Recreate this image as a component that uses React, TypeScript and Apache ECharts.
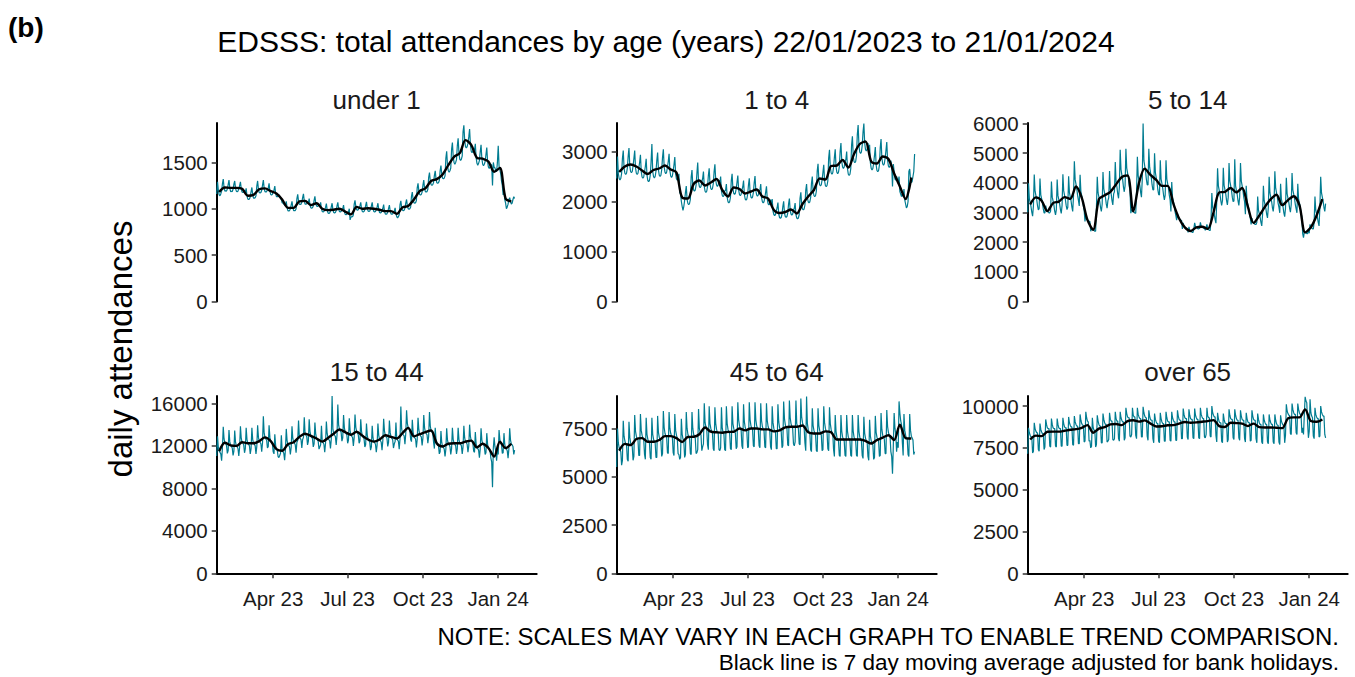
import React, { useEffect, useRef } from "react";
import * as echarts from "echarts";

// ---- labels ----
const chartTitle = "EDSSS: total attendances by age (years) 22/01/2023 to 21/01/2024";
const panelLabel = "(b)";
const yAxisTitle = "daily attendances";
const noteLines = [
  "NOTE: SCALES MAY VARY IN EACH GRAPH TO ENABLE TREND COMPARISON.",
  "Black line is 7 day moving average adjusted for bank holidays.",
];
const panelTitles = ["under 1", "1 to 4", "5 to 14", "15 to 44", "45 to 64", "over 65"];

// x axis: day index since 22/01/2023
const xTickDays = [69, 160, 252, 344];
const xTickLabels = ["Apr 23", "Jul 23", "Oct 23", "Jan 24"];
const xMaxDay = 391;

// y axes
const yMax = [1925, 3570, 6020, 16700, 9180, 10600];
const yTicks = [
  [0, 500, 1000, 1500],
  [0, 1000, 2000, 3000],
  [0, 1000, 2000, 3000, 4000, 5000, 6000],
  [0, 4000, 8000, 12000, 16000],
  [0, 2500, 5000, 7500],
  [0, 2500, 5000, 7500, 10000],
];

// ---- daily attendances (one row per week, Sun..Sat) ----
const dailyUnder1 = [
  1160, 1290, 1200, 1150, 1140, 1160, 1190,
  1270, 1320, 1230, 1190, 1195, 1190, 1215,
  1260, 1310, 1225, 1185, 1190, 1185, 1210,
  1265, 1300, 1220, 1190, 1185, 1190, 1215,
  1250, 1290, 1215, 1180, 1175, 1180, 1200,
  1175, 1220, 1140, 1105, 1100, 1105, 1130,
  1185, 1230, 1150, 1115, 1115, 1120, 1140,
  1245, 1300, 1210, 1175, 1170, 1175, 1200,
  1255, 1310, 1220, 1185, 1180, 1185, 1210,
  1225, 1275, 1190, 1155, 1150, 1155, 1180,
  1200, 1245, 1165, 1130, 1130, 1130, 1150,
  1135, 1110, 1100, 1065, 1060, 1050, 1040,
  1040, 1080, 1010, 980, 975, 980, 1000,
  1040, 1080, 1015, 980, 980, 980, 1000,
  1110, 1155, 1080, 1050, 1045, 1050, 1070,
  1120, 1160, 1085, 1050, 1050, 1055, 1075,
  1070, 1110, 1040, 1010, 1005, 1010, 1030,
  1090, 1135, 1060, 1030, 1025, 1030, 1050,
  1030, 1070, 1000, 970, 965, 970, 990,
  1015, 1055, 985, 955, 950, 955, 975,
  1020, 1060, 990, 960, 955, 960, 980,
  1030, 1070, 1000, 970, 965, 970, 990,
  1000, 1040, 970, 940, 935, 940, 960,
  970, 1000, 880, 910, 915, 915, 935,
  1050, 1090, 1020, 990, 985, 990, 1010,
  1030, 1070, 1000, 970, 965, 970, 990,
  1035, 1075, 1005, 975, 970, 975, 995,
  1030, 1070, 1000, 970, 965, 970, 990,
  1020, 1060, 990, 960, 955, 960, 980,
  1005, 1045, 975, 945, 940, 945, 965,
  1005, 1040, 975, 945, 940, 945, 965,
  975, 1010, 945, 915, 900, 915, 935,
  1045, 1085, 1015, 985, 980, 985, 1005,
  1060, 1100, 1030, 1000, 995, 1000, 1020,
  1135, 1180, 1100, 1065, 1060, 1065, 1090,
  1225, 1275, 1190, 1155, 1150, 1155, 1180,
  1255, 1310, 1220, 1185, 1180, 1185, 1210,
  1340, 1390, 1300, 1260, 1255, 1260, 1285,
  1360, 1410, 1320, 1280, 1275, 1280, 1305,
  1410, 1465, 1370, 1330, 1325, 1330, 1355,
  1545, 1620, 1470, 1410, 1395, 1410, 1440,
  1640, 1715, 1560, 1500, 1480, 1500, 1530,
  1680, 1760, 1600, 1535, 1520, 1535, 1570,
  1830, 1900, 1740, 1670, 1655, 1670, 1705,
  1775, 1860, 1690, 1620, 1605, 1620, 1655,
  1630, 1700, 1550, 1490, 1470, 1490, 1520,
  1615, 1690, 1540, 1480, 1465, 1480, 1510,
  1585, 1660, 1510, 1450, 1435, 1450, 1480,
  1470, 1250, 1500, 1450, 1440, 1410, 1400,
  1500, 1680, 1460, 1420, 1380, 1300, 1250,
  1150, 1180, 1100, 1060, 1000, 1020, 1050,
  1100, 1120, 1080, 1050, 1060, 1100, 1130,
  1110,
];

const daily1to4 = [
  2460, 2900, 2560, 2460, 2430, 2460, 2560,
  2860, 3020, 2670, 2565, 2540, 2565, 2670,
  2905, 3070, 2710, 2600, 2575, 2600, 2710,
  2860, 3020, 2670, 2565, 2540, 2565, 2670,
  2780, 2935, 2595, 2490, 2465, 2490, 2595,
  2700, 2855, 2525, 2420, 2400, 2420, 2525,
  2790, 3150, 2600, 2500, 2470, 2500, 2605,
  2820, 2980, 2635, 2525, 2500, 2525, 2635,
  2885, 3045, 2695, 2585, 2555, 2585, 2690,
  2800, 2955, 2615, 2510, 2480, 2510, 2615,
  2735, 2890, 2555, 2450, 2425, 2450, 2555,
  2180, 2150, 2000, 1900, 1820, 1900, 2020,
  2180, 2310, 2040, 1960, 1935, 1960, 2040,
  2490, 2630, 2325, 2230, 2210, 2230, 2325,
  2565, 2780, 2395, 2300, 2275, 2300, 2395,
  2460, 2600, 2300, 2205, 2180, 2205, 2300,
  2520, 2665, 2355, 2260, 2235, 2260, 2355,
  2595, 2745, 2425, 2330, 2300, 2330, 2425,
  2365, 2500, 2210, 2120, 2095, 2120, 2210,
  2225, 2350, 2080, 1995, 1975, 1995, 2080,
  2415, 2555, 2255, 2165, 2145, 2165, 2255,
  2385, 2520, 2230, 2140, 2115, 2140, 2230,
  2290, 2420, 2140, 2050, 2030, 2050, 2140,
  2330, 2465, 2180, 2090, 2070, 2090, 2180,
  2375, 2510, 2220, 2130, 2105, 2130, 2220,
  2225, 2350, 2080, 1995, 1975, 1995, 2080,
  2185, 2305, 2040, 1955, 1935, 1955, 2040,
  1940, 2050, 1810, 1740, 1720, 1740, 1810,
  1875, 1980, 1750, 1680, 1665, 1680, 1750,
  1900, 2005, 1770, 1700, 1685, 1700, 1770,
  1950, 2060, 1820, 1750, 1730, 1750, 1820,
  1865, 1970, 1740, 1670, 1655, 1670, 1740,
  2065, 2185, 1930, 1850, 1835, 1850, 1930,
  2225, 2350, 2080, 1995, 1975, 1995, 2080,
  2365, 2500, 2210, 2120, 2095, 2120, 2210,
  2610, 2755, 2435, 2335, 2310, 2335, 2435,
  2585, 2735, 2415, 2320, 2295, 2320, 2415,
  2870, 3035, 2685, 2575, 2545, 2575, 2685,
  2885, 3045, 2695, 2585, 2555, 2585, 2695,
  3000, 3170, 2800, 2690, 2660, 2690, 2800,
  2840, 3000, 2655, 2545, 2520, 2545, 2655,
  3125, 3305, 2920, 2800, 2775, 2800, 2920,
  3340, 3530, 3120, 2990, 2960, 2990, 3120,
  3390, 3560, 3170, 3040, 3010, 3040, 3170,
  2970, 3135, 2770, 2660, 2630, 2660, 2770,
  2925, 3090, 2730, 2620, 2595, 2620, 2730,
  3075, 3250, 2870, 2755, 2725, 2755, 2870,
  3020, 3190, 2820, 2710, 2680, 2710, 2820,
  2710, 2300, 2750, 2600, 2450, 2430, 2500,
  2440, 2400, 2500, 2200, 2150, 2100, 2150,
  2100, 2250, 2030, 1950, 1870, 1900, 2000,
  2600, 2650, 2450, 2380, 2400, 2500, 2600,
  2950,
];

const daily5to14 = [
  3010, 3990, 3470, 3335, 3205, 3010, 2880,
  3230, 4280, 3720, 3580, 3440, 3230, 3090,
  3130, 4150, 3600, 3470, 3330, 3130, 2990,
  2990, 3230, 3080, 3050, 3020, 2990, 2990,
  3050, 4050, 3520, 3390, 3250, 3050, 2920,
  3100, 4110, 3570, 3440, 3300, 3100, 2970,
  3240, 4290, 3730, 3590, 3450, 3240, 3100,
  3180, 4220, 3670, 3530, 3390, 3180, 3040,
  3570, 4730, 4110, 3960, 3800, 3570, 3410,
  3220, 4270, 3710, 3570, 3430, 3220, 3080,
  2700, 2920, 2780, 2750, 2720, 2700, 2700,
  2370, 2450, 2440, 2420, 2400, 2370, 2370,
  3170, 4210, 3660, 3520, 3380, 3170, 3040,
  3290, 4370, 3800, 3650, 3510, 3290, 3150,
  3400, 3500, 4400, 3770, 3630, 3400, 3260,
  3630, 3700, 4700, 4030, 3870, 3630, 3480,
  3860, 5120, 4450, 4280, 4120, 3860, 3700,
  3910, 5150, 4500, 4340, 4170, 3910, 3740,
  2980, 3100, 3070, 3040, 3010, 2980, 2980,
  3680, 4880, 4240, 4080, 3920, 3680, 3520,
  4120, 6000, 4750, 4570, 4390, 4120, 3940,
  3930, 5150, 4530, 4360, 4180, 3930, 3760,
  3770, 5000, 4350, 4180, 4020, 3770, 3610,
  3590, 4760, 4130, 3980, 3820, 3590, 3430,
  3590, 4760, 4130, 3980, 3820, 3590, 3430,
  3040, 4030, 3500, 3370, 3230, 3040, 2900,
  2740, 2970, 2830, 2800, 2770, 2740, 2740,
  2450, 2650, 2525, 2500, 2475, 2450, 2450,
  2330, 2520, 2400, 2380, 2360, 2330, 2330,
  2450, 2650, 2525, 2500, 2475, 2450, 2450,
  2470, 2670, 2545, 2520, 2495, 2470, 2470,
  2400, 2500, 2600, 2450, 2425, 2400, 2400,
  2760, 3660, 3180, 3060, 2940, 2760, 2640,
  3390, 4490, 3900, 3750, 3610, 3390, 3240,
  3400, 4510, 3920, 3770, 3630, 3400, 3260,
  3520, 4670, 4060, 3910, 3750, 3520, 3370,
  3390, 4800, 3900, 3750, 3610, 3390, 3240,
  3520, 4670, 4060, 3910, 3750, 3520, 3370,
  2940, 3900, 3390, 3260, 3140, 2940, 2820,
  2600, 2810, 2680, 2650, 2620, 2600, 2600,
  2670, 3540, 3070, 2960, 2840, 2670, 2550,
  2940, 3900, 3390, 3260, 3140, 2940, 2820,
  3170, 4210, 3660, 3520, 3380, 3170, 3040,
  3310, 4390, 3820, 3670, 3530, 3310, 3170,
  2990, 3970, 3450, 3320, 3190, 2990, 2860,
  3150, 4170, 3630, 3490, 3350, 3150, 3010,
  3270, 4330, 3760, 3620, 3480, 3270, 3120,
  2990, 3970, 3450, 3320, 3190, 2990, 2860,
  2290, 2150, 2350, 2330, 2310, 2290, 2290,
  2450, 2300, 2600, 2500, 2480, 2450, 2450,
  2670, 3540, 3070, 2960, 2840, 2670, 2550,
  3170, 4210, 3660, 3520, 3380, 3170, 3040,
  3300,
];

const daily15to44 = [
  11050, 12900, 11850, 11500, 11400, 11250, 10600,
  11800, 13800, 12650, 12300, 12200, 12050, 11300,
  11550, 13500, 12400, 12050, 11950, 11800, 11100,
  11500, 13450, 12350, 12000, 11900, 11750, 11050,
  11850, 13850, 12700, 12350, 12250, 12100, 11350,
  11750, 13700, 12600, 12250, 12150, 12000, 11250,
  11750, 13700, 12600, 12250, 12150, 12000, 11250,
  11950, 13950, 12800, 12450, 12350, 12200, 11450,
  12300, 14800, 13200, 12800, 12650, 12550, 11800,
  11950, 13950, 12800, 12450, 12350, 12200, 11450,
  11250, 13100, 12050, 11700, 11600, 11000, 10900,
  11100, 11300, 13000, 11550, 11450, 11300, 10650,
  11650, 13600, 12500, 12150, 12050, 11900, 11200,
  11850, 13850, 12700, 12350, 12250, 12100, 11350,
  12350, 12500, 14400, 12850, 12700, 12600, 11800,
  12600, 12800, 14700, 13150, 13000, 12900, 12100,
  12450, 14500, 13350, 12950, 12800, 12700, 11900,
  12200, 14200, 13100, 12700, 12550, 12450, 11700,
  11900, 12100, 13900, 12400, 12300, 12150, 11400,
  12250, 14300, 13150, 12750, 12600, 12500, 11750,
  12600, 16700, 13550, 13150, 13000, 12900, 12100,
  13000, 15900, 13950, 13550, 13400, 13300, 12450,
  12750, 14900, 13700, 13300, 13150, 13050, 12250,
  12550, 14600, 13450, 13050, 12900, 12800, 12000,
  12800, 14950, 13750, 13350, 13200, 13050, 12250,
  12450, 14500, 13350, 12950, 12800, 12700, 11900,
  12100, 14100, 13000, 12600, 12500, 12350, 11600,
  11900, 13900, 12750, 12400, 12300, 12150, 11400,
  12100, 14100, 13000, 12600, 12500, 12350, 11600,
  12500, 14550, 13400, 13000, 12850, 12750, 11950,
  12350, 14400, 13250, 12850, 12700, 12600, 11800,
  12200, 12400, 14200, 12700, 12550, 12450, 11700,
  12650, 15700, 13600, 13200, 13050, 12950, 12150,
  13150, 15350, 14100, 13700, 13550, 13450, 12600,
  12400, 14450, 13300, 12900, 12750, 12650, 11850,
  12600, 14650, 13500, 13100, 12950, 12850, 12050,
  12750, 14900, 13700, 13300, 13150, 13050, 12250,
  12900, 15200, 13850, 13450, 13300, 13200, 12350,
  11750, 13700, 12600, 12250, 12100, 12000, 11250,
  11450, 13400, 12300, 11950, 11850, 11700, 11000,
  11700, 13650, 12550, 12200, 12100, 11950, 11200,
  11750, 13700, 12600, 12250, 12150, 12000, 11250,
  11750, 13700, 12600, 12250, 12150, 12000, 11250,
  11900, 13900, 12750, 12400, 12300, 12150, 11400,
  12000, 14000, 12900, 12500, 12400, 12250, 11500,
  11400, 13300, 12200, 11850, 11750, 11600, 10900,
  11700, 13650, 12550, 12200, 12100, 11950, 11200,
  11350, 13200, 12150, 11800, 11700, 11550, 10850,
  10500, 8100, 11800, 12800, 11900, 11500, 10600,
  11600, 11200, 13500, 12600, 12300, 12100, 11300,
  11350, 13200, 12150, 11800, 11700, 11550, 10850,
  11700, 13650, 12550, 12200, 12100, 11950, 11200,
  11600,
];

const daily45to64 = [
  5500, 7500, 6750, 6500, 6350, 6300, 5600,
  5850, 7900, 7100, 6850, 6700, 6650, 5900,
  5800, 7850, 7050, 6750, 6650, 6550, 5850,
  6050, 8200, 7350, 7100, 6950, 6900, 6100,
  6100, 8250, 7400, 7150, 7000, 6950, 6150,
  5900, 8050, 7200, 6950, 6800, 6750, 6000,
  5900, 8050, 7200, 6950, 6800, 6750, 6000,
  6000, 8150, 7300, 7050, 6900, 6850, 6050,
  6200, 8400, 7550, 7250, 7100, 7050, 6250,
  6200, 8350, 7500, 7250, 7100, 7050, 6250,
  6100, 8250, 7400, 7150, 7000, 6200, 6150,
  5900, 6000, 8000, 7200, 6950, 6850, 6000,
  6150, 8350, 7500, 7200, 7050, 7000, 6200,
  6150, 8350, 7500, 7200, 7050, 7000, 6200,
  6250, 6400, 8500, 7500, 7300, 7150, 6350,
  6550, 6700, 8800, 7800, 7600, 7500, 6650,
  6400, 8650, 7750, 7500, 7350, 7250, 6450,
  6350, 8600, 7750, 7450, 7300, 7250, 6400,
  6350, 6500, 8600, 7500, 7300, 7200, 6400,
  6350, 8650, 7750, 7450, 7300, 7250, 6450,
  6400, 8650, 7750, 7500, 7350, 7250, 6450,
  6550, 8850, 7950, 7650, 7500, 7450, 6600,
  6450, 8750, 7850, 7550, 7400, 7350, 6500,
  6550, 8850, 7950, 7650, 7500, 7450, 6600,
  6550, 8850, 7950, 7650, 7500, 7450, 6600,
  6500, 8800, 7900, 7600, 7450, 7400, 6550,
  6500, 8800, 7900, 7600, 7450, 7400, 6550,
  6400, 8650, 7800, 7500, 7350, 7300, 6450,
  6450, 8750, 7850, 7550, 7400, 7350, 6500,
  6600, 8900, 8000, 7700, 7550, 7500, 6650,
  6600, 8950, 8050, 7750, 7600, 7500, 6700,
  6600, 6800, 8950, 7750, 7600, 7500, 6700,
  6650, 9050, 8100, 7800, 7650, 7550, 6750,
  6350, 9150, 7750, 7450, 7300, 7250, 6400,
  6300, 8550, 7650, 7400, 7250, 7150, 6350,
  6300, 8550, 7650, 7400, 7250, 7150, 6350,
  6400, 8650, 7800, 7500, 7350, 7300, 6450,
  6350, 8600, 7750, 7450, 7300, 7250, 6400,
  6050, 8200, 7350, 7050, 6950, 6850, 6100,
  6050, 8200, 7350, 7050, 6950, 6850, 6100,
  6050, 8200, 7350, 7050, 6950, 6850, 6100,
  6050, 8200, 7350, 7050, 6950, 6850, 6100,
  6050, 8200, 7350, 7050, 6950, 6850, 6100,
  5950, 8100, 7250, 7000, 6850, 6800, 6050,
  5850, 7950, 7100, 6850, 6700, 6650, 5900,
  6000, 8150, 7300, 7050, 6900, 6850, 6050,
  6100, 8300, 7450, 7150, 7050, 6950, 6200,
  6200, 8450, 7600, 7300, 7150, 7100, 6300,
  6050, 5150, 6600, 8300, 7500, 7200, 6300,
  6800, 6500, 8900, 8300, 7900, 7700, 6800,
  6100, 8250, 7400, 7150, 7000, 6950, 6150,
  6050, 8250, 7400, 7100, 7000, 6900, 6150,
  6300,
];

const dailyOver65 = [
  7150, 8700, 8400, 8250, 8150, 8150, 7200,
  7300, 9000, 8650, 8500, 8400, 8400, 7400,
  7300, 8950, 8600, 8450, 8350, 8350, 7400,
  7550, 9200, 8900, 8700, 8650, 8650, 7600,
  7550, 9250, 8900, 8700, 8650, 8650, 7600,
  7550, 9250, 8900, 8700, 8650, 8650, 7600,
  7600, 9300, 8950, 8750, 8700, 8700, 7650,
  7650, 9350, 9000, 8850, 8750, 8750, 7700,
  7650, 9400, 9050, 8900, 8800, 8800, 7750,
  7750, 9500, 9150, 8950, 8850, 8850, 7850,
  7900, 9650, 9300, 9100, 9050, 7900, 7950,
  7500, 7600, 9300, 8700, 8550, 8550, 7550,
  7700, 9450, 9100, 8900, 8800, 8800, 7800,
  7800, 9550, 9200, 9000, 8900, 8900, 7850,
  7900, 8000, 9600, 9200, 9100, 9100, 8000,
  7950, 8050, 9650, 9250, 9100, 9100, 8050,
  7900, 9650, 9300, 9150, 9050, 9050, 7950,
  8100, 9900, 9550, 9350, 9300, 9300, 8200,
  8150, 8300, 9900, 9450, 9350, 9350, 8250,
  8050, 9900, 9500, 9350, 9250, 9250, 8150,
  8150, 9950, 9600, 9400, 9300, 9300, 8200,
  7950, 9750, 9400, 9200, 9150, 9150, 8050,
  7800, 9550, 9200, 9050, 8950, 8950, 7900,
  7800, 9600, 9250, 9050, 8950, 8950, 7900,
  7900, 9650, 9300, 9100, 9050, 9050, 7950,
  7900, 9650, 9300, 9150, 9050, 9050, 7950,
  7950, 9750, 9400, 9200, 9150, 9150, 8050,
  8050, 9850, 9500, 9300, 9250, 9250, 8150,
  8000, 9800, 9450, 9250, 9200, 9200, 8100,
  8050, 9850, 9450, 9300, 9200, 9200, 8100,
  8050, 9900, 9500, 9350, 9250, 9250, 8150,
  8100, 8300, 9900, 9400, 9300, 9300, 8200,
  8150, 10000, 9600, 9450, 9350, 9350, 8250,
  7850, 9600, 9250, 9050, 9000, 9000, 7900,
  7800, 9550, 9200, 9000, 8950, 8950, 7850,
  8000, 9800, 9450, 9250, 9200, 9200, 8100,
  8000, 9800, 9450, 9250, 9150, 9150, 8100,
  7950, 9750, 9400, 9200, 9150, 9150, 8050,
  7850, 9600, 9250, 9050, 9000, 9000, 7900,
  7950, 9750, 9400, 9200, 9150, 9150, 8050,
  7800, 9550, 9200, 9000, 8900, 8900, 7850,
  7750, 9500, 9150, 9000, 8900, 8900, 7850,
  7750, 9500, 9150, 9000, 8900, 8900, 7850,
  7750, 9500, 9150, 8950, 8850, 8850, 7850,
  7700, 9450, 9100, 8950, 8850, 8850, 7800,
  8250, 10100, 9700, 9550, 9450, 9450, 8350,
  8300, 10150, 9800, 9600, 9500, 9500, 8400,
  8300, 10150, 9800, 9600, 9500, 9500, 8400,
  8700, 8300, 9500, 10550, 10300, 10200, 9000,
  8100, 8500, 10400, 9600, 9400, 9300, 8200,
  8050, 9900, 9500, 9350, 9250, 9250, 8150,
  8200, 10000, 9650, 9500, 9400, 9400, 8300,
  8100,
];

// ---- 7-day moving average, one value per week (mid-week) ----
const maUnder1 = [
  1180, 1230, 1225, 1225, 1215, 1140, 1150, 1210, 1220, 1190, 1165, 1100, 1010,
  1010, 1080, 1085, 1040, 1060, 1000, 985, 990, 1000, 970, 940, 1020, 1000,
  1005, 1000, 990, 975, 975, 945, 1015, 1030, 1100, 1190, 1220, 1300, 1320,
  1370, 1470, 1560, 1600, 1740, 1690, 1550, 1540, 1510, 1400, 1440, 1110, 1080,
];
const ma1to4 = [
  2590, 2700, 2740, 2700, 2620, 2550, 2630, 2660, 2720, 2640, 2580, 2080, 2060,
  2350, 2420, 2320, 2380, 2450, 2230, 2100, 2280, 2250, 2160, 2200, 2240, 2100,
  2060, 1830, 1770, 1790, 1840, 1760, 1950, 2100, 2230, 2460, 2440, 2710, 2720,
  2830, 2680, 2950, 3150, 3200, 2800, 2760, 2900, 2850, 2560, 2300, 2050, 2480,
];
const ma5to14 = [
  3270, 3510, 3400, 3050, 3320, 3370, 3520, 3460, 3880, 3500, 2750, 2420, 3450,
  3580, 3700, 3950, 4200, 4250, 3040, 4000, 4480, 4270, 4100, 3900, 3900, 3300,
  2800, 2500, 2380, 2500, 2520, 2450, 3000, 3680, 3700, 3830, 3680, 3830, 3200,
  2650, 2900, 3200, 3450, 3600, 3250, 3420, 3550, 3250, 2330, 2500, 2900, 3450,
];
const ma15to44 = [
  11500, 12300, 12050, 12000, 12350, 12250, 12250, 12450, 12800, 12450, 11700, 11550, 12150,
  12350, 12850, 13150, 12950, 12700, 12400, 12750, 13150, 13550, 13300, 13050, 13330, 12950,
  12600, 12400, 12600, 13000, 12850, 12700, 13200, 13700, 12900, 13100, 13300, 13450, 12230,
  11950, 12200, 12250, 12250, 12400, 12500, 11860, 12200, 11800, 11000, 12400, 11800, 12200,
];
const ma45to64 = [
  6350, 6700, 6640, 6950, 7000, 6810, 6810, 6900, 7100, 7100, 7000, 6800, 7060,
  7070, 7200, 7550, 7330, 7300, 7280, 7320, 7330, 7500, 7400, 7500, 7500, 7450,
  7450, 7350, 7400, 7560, 7590, 7590, 7650, 7300, 7240, 7240, 7350, 7300, 6930,
  6930, 6930, 6930, 6930, 6850, 6720, 6900, 7030, 7150, 6900, 7700, 7000, 6980,
];
const maOver65 = [
  8000, 8230, 8200, 8460, 8470, 8470, 8520, 8580, 8620, 8700, 8860, 8400, 8650,
  8740, 8900, 8930, 8860, 9100, 9150, 9070, 9140, 8950, 8780, 8790, 8850, 8860,
  8950, 9050, 9000, 9020, 9060, 9100, 9160, 8800, 8750, 9000, 8980, 8950, 8800,
  8950, 8740, 8720, 8720, 8700, 8680, 9260, 9320, 9320, 9800, 9100, 9060, 9200,
];

const dailySeries = [dailyUnder1, daily1to4, daily5to14, daily15to44, daily45to64, dailyOver65];
const maSeries = [maUnder1, ma1to4, ma5to14, ma15to44, ma45to64, maOver65];

const FONT = '"Liberation Sans", Arial, Helvetica, sans-serif';
const TEAL = "#007C91";
const INK = "#1a1a1a";

export default function App() {
  const ref = useRef<HTMLDivElement>(null);

  useEffect(() => {
    if (!ref.current) return;
    const chart = echarts.init(ref.current, undefined, { renderer: "svg" });

    const colLeft = [216.7, 616.7, 1027.7];
    const rowTop = [123, 396];
    const rowHeight = [178.5, 177.3];
    const panelWidth = 320;

    const grid: any[] = [];
    const xAxis: any[] = [];
    const yAxis: any[] = [];
    const series: any[] = [];
    const graphic: any[] = [];

    const textStyle = (text: string, font: string, align: string) => ({
      text,
      font,
      fill: "#000",
      textAlign: align,
      textVerticalAlign: "middle",
      align,
      verticalAlign: "middle",
    });

    panelTitles.forEach((name, i) => {
      const col = i % 3;
      const row = Math.floor(i / 3);
      const bottomRow = row === 1;
      grid.push({
        left: colLeft[col],
        top: rowTop[row],
        width: panelWidth,
        height: rowHeight[row],
        containLabel: false,
      });
      xAxis.push({
        type: "value",
        gridIndex: i,
        min: 0,
        max: xMaxDay,
        splitLine: { show: false },
        axisLine: { show: bottomRow, onZero: false, lineStyle: { color: "#000", width: 2 } },
        axisTick: {
          show: bottomRow,
          customValues: xTickDays,
          length: 5,
          lineStyle: { color: "#333", width: 1.5 },
        },
        axisLabel: {
          show: bottomRow,
          customValues: xTickDays,
          formatter: (v: number) => {
            const k = xTickDays.indexOf(Math.round(v));
            return k >= 0 ? xTickLabels[k] : "";
          },
          fontFamily: FONT,
          fontSize: 20.5,
          color: INK,
          margin: 15,
        },
      });
      yAxis.push({
        type: "value",
        gridIndex: i,
        min: 0,
        max: yMax[i],
        splitLine: { show: false },
        axisLine: { show: true, onZero: false, lineStyle: { color: "#000", width: 2 } },
        axisTick: {
          show: true,
          customValues: yTicks[i],
          length: 5,
          lineStyle: { color: "#333", width: 1.5 },
        },
        axisLabel: {
          show: true,
          customValues: yTicks[i],
          formatter: (v: number) => String(Math.round(v)),
          fontFamily: FONT,
          fontSize: 20.5,
          color: INK,
          margin: 9,
        },
      });
      series.push({
        type: "line",
        name: name + " daily",
        xAxisIndex: i,
        yAxisIndex: i,
        data: dailySeries[i].map((v, d) => [d, v]),
        showSymbol: false,
        symbol: "none",
        lineStyle: { color: TEAL, width: 1.2 },
        z: 2,
      });
      series.push({
        type: "line",
        name: name + " 7 day average",
        xAxisIndex: i,
        yAxisIndex: i,
        data: maSeries[i].map((v, w) => [w * 7 + 3, v]),
        showSymbol: false,
        symbol: "none",
        smooth: 0.3,
        lineStyle: { color: "#000", width: 2.4 },
        z: 3,
      });
      graphic.push({
        type: "text",
        x: colLeft[col] + panelWidth / 2,
        y: row === 0 ? 100 : 372,
        style: { ...textStyle(name, `26px ${FONT}`, "center"), fill: INK },
      });
    });

    graphic.push(
      {
        type: "text",
        x: 8,
        y: 27,
        style: textStyle(panelLabel, `bold 28px ${FONT}`, "left"),
      },
      {
        type: "text",
        x: 666,
        y: 41,
        style: textStyle(chartTitle, `30px ${FONT}`, "center"),
      },
      {
        type: "text",
        x: 120,
        y: 349,
        rotation: Math.PI / 2,
        style: textStyle(yAxisTitle, `33px ${FONT}`, "center"),
      },
      {
        type: "text",
        x: 1339,
        y: 636,
        style: textStyle(noteLines[0], `24px ${FONT}`, "right"),
      },
      {
        type: "text",
        x: 1339,
        y: 662,
        style: textStyle(noteLines[1], `22.5px ${FONT}`, "right"),
      }
    );

    chart.setOption({
      animation: false,
      backgroundColor: "#fff",
      grid,
      xAxis,
      yAxis,
      series,
      graphic,
    });

    return () => chart.dispose();
  }, []);

  return (
    <div
      ref={ref}
      style={{ position: "fixed", left: 0, top: 0, width: 1355, height: 677 }}
    />
  );
}
